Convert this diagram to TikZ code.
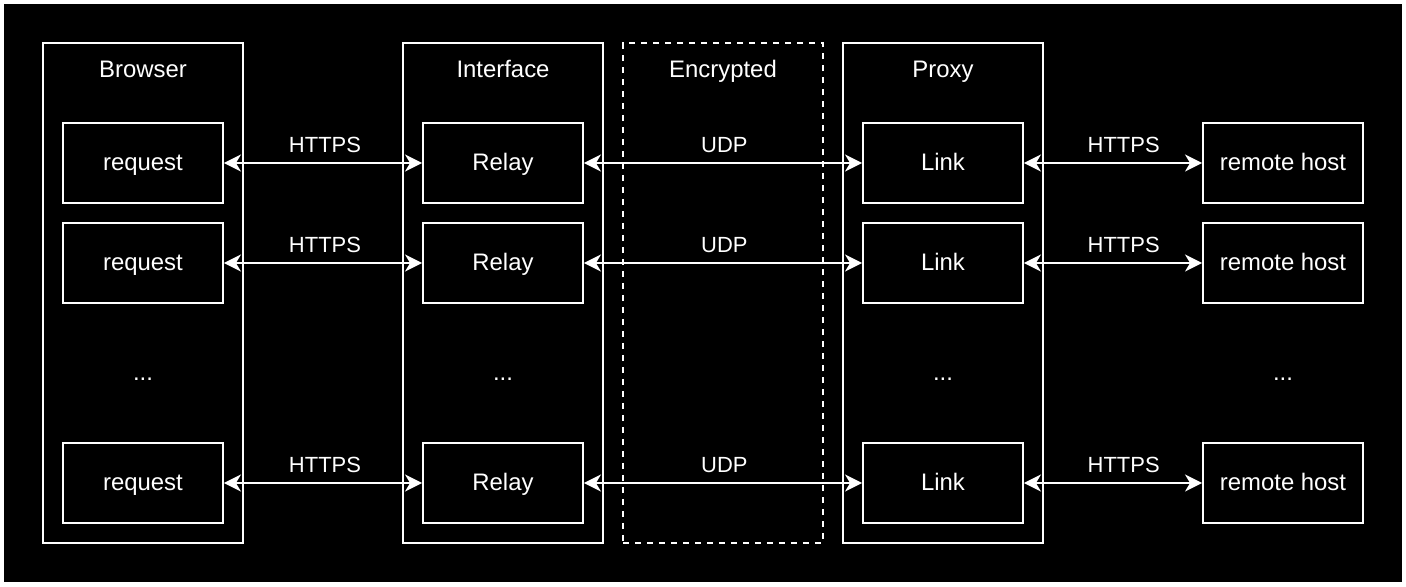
\documentclass[tikz,border=0pt]{standalone}
\usepackage{fontspec}
\setmainfont{Liberation Sans}
\usetikzlibrary{arrows.meta}

\tikzset{
  layer/.style={draw=white, line width=1.1pt, minimum width=4cm, minimum height=10cm},
  item/.style={draw=white, line width=1.1pt, minimum width=3.2cm, minimum height=1.6cm, text=white, text height=0.38cm, text depth=0.1cm},
  lbl/.style={text=white, text height=0.38cm, text depth=0.1cm},
  proto/.style={text=white, anchor=base, yshift=0.22cm, font=\fontsize{12.5}{15}\selectfont},
  link/.style={white, line width=1.1pt, {Stealth[length=0.34cm,width=0.34cm,inset=0.1cm]}-{Stealth[length=0.34cm,width=0.34cm,inset=0.1cm]}},
}

\begin{document}
\begin{tikzpicture}[x=0.02cm, y=-0.02cm, font=\fontsize{13.6}{16}\selectfont]
			% Background
			\useasboundingbox (0,0) rectangle (1406,586);
			\fill[white] (0,0) rectangle (1406,586);
			\fill[black] (4,4) rectangle (1402,582);

			% Columns
			\node[layer] (browser) at (143,293) {};
			\node[layer] (iface) at (503,293) {};
			\node[layer, dash pattern=on 0.12cm off 0.12cm] (enc) at (723,293) {};
			\node[layer] (proxy) at (943,293) {};
			\node[lbl] (browserT) at (143,70) {Browser};
			\node[lbl] (ifaceT) at (503,70) {Interface};
			\node[lbl] (encT) at (723,70) {Encrypted};
			\node[lbl] (proxyT) at (943,70) {Proxy};

			% Row 1
			\node[item] (req1) at (143,163) {request};
			\node[item] (rel1) at (503,163) {Relay};
			\node[item] (lnk1) at (943,163) {Link};
			\node[item] (rem1) at (1283,163) {remote host};

			% Row 2
			\node[item] (req2) at (143,263) {request};
			\node[item] (rel2) at (503,263) {Relay};
			\node[item] (lnk2) at (943,263) {Link};
			\node[item] (rem2) at (1283,263) {remote host};

			% Gap
			\node[lbl] (dotsA) at (143,373) {...};
			\node[lbl] (dotsB) at (503,373) {...};
			\node[lbl] (dotsC) at (943,373) {...};
			\node[lbl] (dotsD) at (1283,373) {...};

			% Row n
			\node[item] (req3) at (143,483) {request};
			\node[item] (rel3) at (503,483) {Relay};
			\node[item] (lnk3) at (943,483) {Link};
			\node[item] (rem3) at (1283,483) {remote host};

			% Connections
			\draw[link] (req1) -- node[proto, pos=0.51] {HTTPS} (rel1);
			\draw[link] (rel1) -- node[proto, pos=0.505] {UDP} (lnk1);
			\draw[link] (lnk1) -- node[proto, pos=0.56] {HTTPS} (rem1);
			\draw[link] (req2) -- node[proto, pos=0.51] {HTTPS} (rel2);
			\draw[link] (rel2) -- node[proto, pos=0.505] {UDP} (lnk2);
			\draw[link] (lnk2) -- node[proto, pos=0.56] {HTTPS} (rem2);
			\draw[link] (req3) -- node[proto, pos=0.51] {HTTPS} (rel3);
			\draw[link] (rel3) -- node[proto, pos=0.505] {UDP} (lnk3);
			\draw[link] (lnk3) -- node[proto, pos=0.56] {HTTPS} (rem3);
		\end{tikzpicture}
\end{document}
